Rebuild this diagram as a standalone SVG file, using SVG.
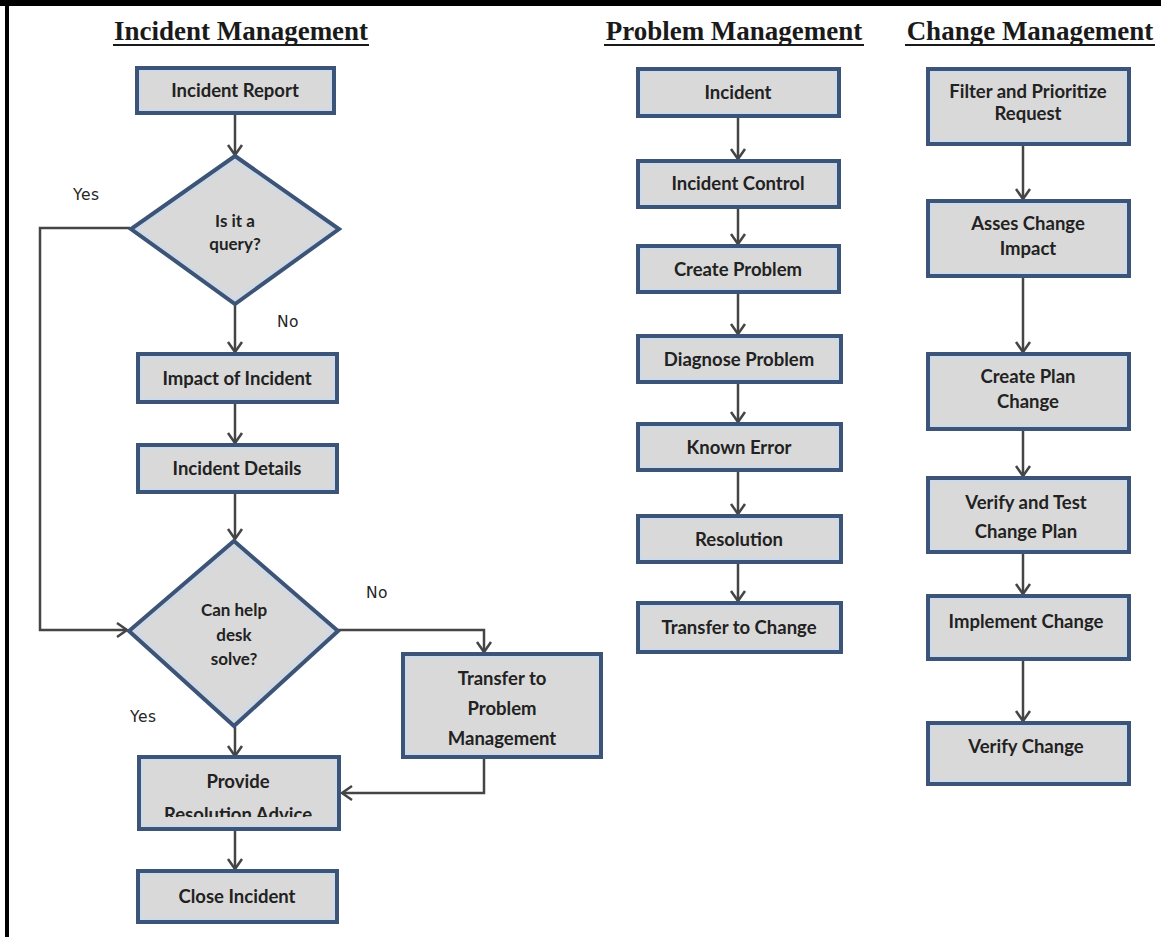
<svg xmlns="http://www.w3.org/2000/svg" width="1161" height="937" viewBox="0 0 1161 937">
  <defs>
    <style>
      .box { fill: #d9d9d9; stroke: #3b5477; stroke-width: 4; }
      .inner { fill: none; stroke: #c9daf0; stroke-width: 1.5; }
      .lbl { font-family: Lato, "Open Sans", sans-serif; font-weight: bold; font-size: 18.5px; fill: #222; text-anchor: middle; }
      .small { font-size: 17px; }
      .title { font-family: "Liberation Serif", "Times New Roman", serif; font-weight: bold; font-size: 27px; fill: #1a1a1a; text-anchor: middle; }
      .uline { stroke: #1a1a1a; stroke-width: 2; }
      .yn { font-family: "DejaVu Sans", sans-serif; font-size: 15.5px; fill: #262626; letter-spacing: 0.5px; }
      .conn { fill: none; stroke: #454545; stroke-width: 2.5; }
    </style>
    <marker id="arrow" markerUnits="userSpaceOnUse" markerWidth="20" markerHeight="20" viewBox="-2 -10 14 20" refX="10" refY="0" orient="auto">
      <path d="M0,-7 L10,0 L0,7" fill="none" stroke="#454545" stroke-width="2.5"/>
    </marker>
    <clipPath id="clipAdvice">
      <rect x="140" y="759" width="198" height="58"/>
    </clipPath>
  </defs>

  <rect x="0" y="0" width="1161" height="937" fill="#ffffff"/>
  <!-- frame edges -->
  <rect x="0" y="0" width="1161" height="6" fill="#000"/>
  <rect x="5" y="0" width="4" height="937" fill="#000"/>

  <!-- column titles -->
  <g id="titles">
    <text class="title" x="241" y="40">Incident Management</text>
    <line class="uline" x1="113" y1="45" x2="369" y2="45"/>
    <text class="title" x="734" y="40">Problem Management</text>
    <line class="uline" x1="604" y1="45" x2="864" y2="45"/>
    <text class="title" x="1030" y="40">Change Management</text>
    <line class="uline" x1="905" y1="45" x2="1155" y2="45"/>
  </g>

  <!-- connectors -->
  <g id="connectors">
    <path class="conn" d="M235,113 V155" marker-end="url(#arrow)"/>
    <path class="conn" d="M235,305 V352" marker-end="url(#arrow)"/>
    <path class="conn" d="M235,402 V443" marker-end="url(#arrow)"/>
    <path class="conn" d="M235,492 V539" marker-end="url(#arrow)"/>
    <path class="conn" d="M130,228 H40 V630 H127" marker-end="url(#arrow)"/>
    <path class="conn" d="M338,630 H484 V652" marker-end="url(#arrow)"/>
    <path class="conn" d="M484,758 V793 H342" marker-end="url(#arrow)"/>
    <path class="conn" d="M235,727 V756" marker-end="url(#arrow)"/>
    <path class="conn" d="M235,830 V869" marker-end="url(#arrow)"/>

    <path class="conn" d="M738,117 V159" marker-end="url(#arrow)"/>
    <path class="conn" d="M738,207 V244" marker-end="url(#arrow)"/>
    <path class="conn" d="M738,293 V334" marker-end="url(#arrow)"/>
    <path class="conn" d="M738,383 V422" marker-end="url(#arrow)"/>
    <path class="conn" d="M738,470 V514" marker-end="url(#arrow)"/>
    <path class="conn" d="M738,562 V601" marker-end="url(#arrow)"/>

    <path class="conn" d="M1023,145 V199" marker-end="url(#arrow)"/>
    <path class="conn" d="M1023,277 V352" marker-end="url(#arrow)"/>
    <path class="conn" d="M1023,430 V476" marker-end="url(#arrow)"/>
    <path class="conn" d="M1023,553 V594" marker-end="url(#arrow)"/>
    <path class="conn" d="M1023,660 V721" marker-end="url(#arrow)"/>
  </g>

  <!-- edge labels -->
  <g id="edge-labels">
    <text class="yn" x="73" y="200">Yes</text>
    <text class="yn" x="277" y="327">No</text>
    <text class="yn" x="366" y="598">No</text>
    <text class="yn" x="130" y="722">Yes</text>
  </g>

  <!-- incident management -->
  <g id="incident-report">
    <rect class="box" x="137" y="68" width="197" height="45"/>
    <rect class="inner" x="140" y="71" width="191" height="39"/>
    <text class="lbl" x="235" y="97">Incident Report</text>
  </g>
  <g id="is-query">
    <polygon class="box" points="235,156 339,229 235,304 131,229"/>
    <polygon class="inner" points="235,161 333,229 235,299 137,229"/>
    <text class="lbl small" x="235" y="227">Is it a</text>
    <text class="lbl small" x="235" y="250">query?</text>
  </g>
  <g id="impact-of-incident">
    <rect class="box" x="138" y="354" width="199" height="48"/>
    <rect class="inner" x="141" y="357" width="193" height="42"/>
    <text class="lbl" x="237" y="385">Impact of Incident</text>
  </g>
  <g id="incident-details">
    <rect class="box" x="138" y="445" width="199" height="47"/>
    <rect class="inner" x="141" y="448" width="193" height="41"/>
    <text class="lbl" x="237" y="475">Incident  Details</text>
  </g>
  <g id="can-help-desk-solve">
    <polygon class="box" points="234,541 338,631 234,726 129,631"/>
    <polygon class="inner" points="234,547 332,631 234,720 135,631"/>
    <text class="lbl small" x="234" y="616">Can help</text>
    <text class="lbl small" x="234" y="641">desk</text>
    <text class="lbl small" x="234" y="665">solve?</text>
  </g>
  <g id="transfer-to-problem">
    <rect class="box" x="403" y="654" width="198" height="103"/>
    <rect class="inner" x="406" y="657" width="192" height="97"/>
    <text class="lbl" x="502" y="685">Transfer to</text>
    <text class="lbl" x="502" y="715">Problem</text>
    <text class="lbl" x="502" y="745">Management</text>
  </g>
  <g id="provide-resolution-advice">
    <rect class="box" x="139" y="757" width="200" height="72"/>
    <rect class="inner" x="142" y="760" width="194" height="66"/>
    <text class="lbl" x="238" y="788">Provide</text>
    <text class="lbl" x="238" y="821" clip-path="url(#clipAdvice)">Resolution Advice</text>
  </g>
  <g id="close-incident">
    <rect class="box" x="138" y="871" width="199" height="51"/>
    <rect class="inner" x="141" y="874" width="193" height="45"/>
    <text class="lbl" x="237" y="903">Close Incident</text>
  </g>

  <!-- problem management -->
  <g id="pm-incident">
    <rect class="box" x="638" y="69" width="201" height="47"/>
    <rect class="inner" x="641" y="72" width="195" height="41"/>
    <text class="lbl" x="738" y="99">Incident</text>
  </g>
  <g id="pm-incident-control">
    <rect class="box" x="638" y="161" width="201" height="46"/>
    <rect class="inner" x="641" y="164" width="195" height="40"/>
    <text class="lbl" x="738" y="190">Incident Control</text>
  </g>
  <g id="pm-create-problem">
    <rect class="box" x="638" y="246" width="201" height="46"/>
    <rect class="inner" x="641" y="249" width="195" height="40"/>
    <text class="lbl" x="738" y="276">Create Problem</text>
  </g>
  <g id="pm-diagnose-problem">
    <rect class="box" x="638" y="336" width="203" height="46"/>
    <rect class="inner" x="641" y="339" width="197" height="40"/>
    <text class="lbl" x="739" y="366">Diagnose Problem</text>
  </g>
  <g id="pm-known-error">
    <rect class="box" x="638" y="424" width="203" height="46"/>
    <rect class="inner" x="641" y="427" width="197" height="40"/>
    <text class="lbl" x="739" y="454">Known Error</text>
  </g>
  <g id="pm-resolution">
    <rect class="box" x="638" y="516" width="203" height="46"/>
    <rect class="inner" x="641" y="519" width="197" height="40"/>
    <text class="lbl" x="739" y="546">Resolution</text>
  </g>
  <g id="pm-transfer-to-change">
    <rect class="box" x="638" y="603" width="203" height="49"/>
    <rect class="inner" x="641" y="606" width="197" height="43"/>
    <text class="lbl" x="739" y="634">Transfer to Change</text>
  </g>

  <!-- change management -->
  <g id="cm-filter">
    <rect class="box" x="928" y="69" width="201" height="75"/>
    <rect class="inner" x="931" y="72" width="195" height="69"/>
    <text class="lbl" x="1028" y="98">Filter and Prioritize</text>
    <text class="lbl" x="1028" y="120">Request</text>
  </g>
  <g id="cm-assess-impact">
    <rect class="box" x="928" y="201" width="201" height="75"/>
    <rect class="inner" x="931" y="204" width="195" height="69"/>
    <text class="lbl" x="1028" y="230">Asses Change</text>
    <text class="lbl" x="1028" y="255">Impact</text>
  </g>
  <g id="cm-create-plan">
    <rect class="box" x="928" y="354" width="201" height="75"/>
    <rect class="inner" x="931" y="357" width="195" height="69"/>
    <text class="lbl" x="1028" y="383">Create Plan</text>
    <text class="lbl" x="1028" y="408">Change</text>
  </g>
  <g id="cm-verify-test">
    <rect class="box" x="928" y="478" width="201" height="74"/>
    <rect class="inner" x="931" y="481" width="195" height="68"/>
    <text class="lbl" x="1026" y="509">Verify and Test</text>
    <text class="lbl" x="1026" y="538">Change Plan</text>
  </g>
  <g id="cm-implement">
    <rect class="box" x="928" y="596" width="201" height="63"/>
    <rect class="inner" x="931" y="599" width="195" height="57"/>
    <text class="lbl" x="1026" y="628">Implement Change</text>
  </g>
  <g id="cm-verify-change">
    <rect class="box" x="928" y="723" width="201" height="61"/>
    <rect class="inner" x="931" y="726" width="195" height="55"/>
    <text class="lbl" x="1026" y="753">Verify Change</text>
  </g>
</svg>
